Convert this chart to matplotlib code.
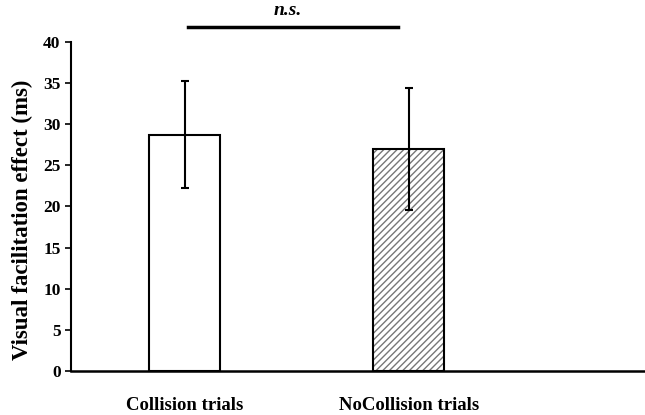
import matplotlib.pyplot as plt
import numpy as np

plt.rcParams['font.family'] = ['Liberation Serif', 'DejaVu Serif']
plt.rcParams['font.weight'] = 'bold'
plt.rcParams['hatch.linewidth'] = 1.0

# data
categories = ['Collision trials', 'NoCollision trials']
means = [28.7, 27.0]
errors = [6.5, 7.4]
hatches = ['', '/////']
yticks = [0, 5, 10, 15, 20, 25, 30, 35, 40]

fig = plt.figure(figsize=(6.45, 4.15), dpi=100)
ax = fig.add_axes([0.110, 0.106, 0.890, 0.793])

x = np.arange(len(categories))
for i in range(len(categories)):
    # hatch layer in grey, then a black outline over it
    ax.bar(x[i], means[i], width=0.317, color='white', edgecolor='#777777',
           linewidth=0, hatch=hatches[i], zorder=2)
    ax.bar(x[i], means[i], width=0.317, fill=False, edgecolor='black',
           linewidth=1.5, zorder=2.5)
ax.errorbar(x, means, yerr=errors, fmt='none', ecolor='black',
            elinewidth=1.5, capsize=3, capthick=1.5, zorder=3)

ax.set_ylim(0, 40)
ax.set_xlim(-0.509, 2.054)
ax.set_yticks(yticks)
ax.set_xticks([])
ax.tick_params(axis='y', labelsize=12.5, length=4, width=1.2, direction='out')
for s in ['top', 'right']:
    ax.spines[s].set_visible(False)
ax.spines['left'].set_linewidth(1.5)
ax.spines['bottom'].set_linewidth(1.8)
ax.set_ylabel('Visual facilitation effect (ms)', fontsize=16.5, fontweight='bold')
ax.yaxis.set_label_coords(-0.066, 0.459)

for i, c in enumerate(categories):
    ax.text(x[i], -4.2, c, ha='center', va='center', fontsize=13.5, fontweight='bold')

# significance bar
ax.plot([0.013, 0.951], [41.8, 41.8], color='black', lw=2.5, clip_on=False)
ax.text(0.46, 43.8, 'n.s.', ha='center', va='center', fontsize=14,
        fontweight='bold', style='italic')

fig.savefig('out.png', dpi=100)
